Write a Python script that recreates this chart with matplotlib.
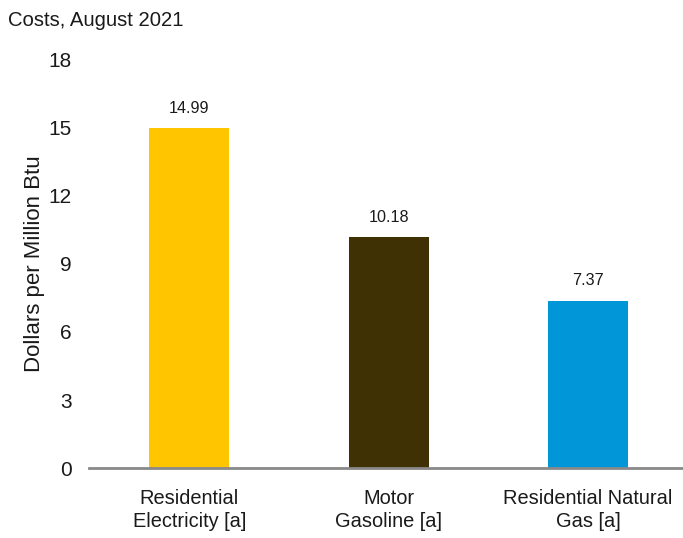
import matplotlib
matplotlib.use("Agg")
import matplotlib.pyplot as plt

categories = ["Residential\nElectricity [a]", "Motor\nGasoline [a]", "Residential Natural\nGas [a]"]
values = [14.99, 10.18, 7.37]
colors = ["#FFC600", "#3F3104", "#0096D7"]
yticks = [0, 3, 6, 9, 12, 15, 18]

plt.rcParams["font.family"] = ["Liberation Sans", "DejaVu Sans"]

fig = plt.figure(figsize=(6.83, 5.38), dpi=100)
ax = fig.add_axes([0.131, 0.1301, 0.869, 0.7584])

x = range(len(values))
bars = ax.bar(x, values, width=0.4, color=colors, zorder=2)
for b, v in zip(bars, values):
    ax.text(b.get_x() + b.get_width() / 2, v + 0.88, f"{v:.2f}",
            ha="center", va="center", fontsize=11.6, color="#1a1a1a")

ax.set_xlim(-0.5, 2.476)
ax.set_ylim(0, 18)
ax.set_yticks(yticks)
ax.set_xticks(list(x))
ax.set_xticklabels(categories, fontsize=14.4, linespacing=1.25)
ax.tick_params(axis="both", length=0, labelsize=15, colors="#1a1a1a")
ax.tick_params(axis="x", labelsize=14.4, pad=15)
ax.tick_params(axis="y", pad=12.6)

for side in ("top", "right", "left"):
    ax.spines[side].set_visible(False)
ax.spines["bottom"].set_color("#898989")
ax.spines["bottom"].set_linewidth(2)

ax.set_ylabel("Dollars per Million Btu", fontsize=16, color="#1a1a1a", labelpad=3)
fig.text(8 / 683, 1 - 20 / 538, "Costs, August 2021", fontsize=14.6,
         ha="left", va="center", color="#1a1a1a")

fig.savefig("out.png", dpi=100)
